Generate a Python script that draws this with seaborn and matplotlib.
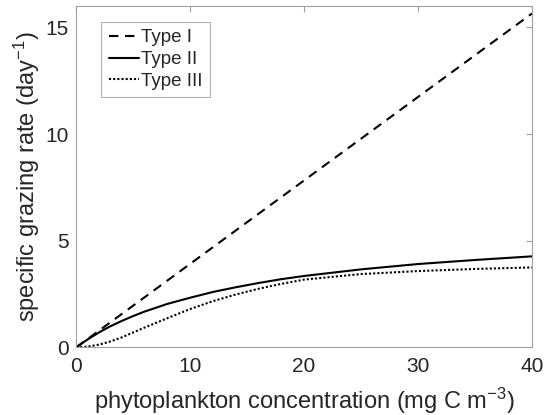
import matplotlib
matplotlib.use("Agg")
import matplotlib.pyplot as plt
import seaborn as sns
import numpy as np
import pandas as pd

# valores
conc = [0, 1, 2, 3, 4, 5, 6, 8, 10, 12, 14, 16, 18, 20, 25, 30, 35, 40]
tipo1_x = [0, 40]
tipo1_y = [0, 15.65]
tipo2 = [0, 0.37, 0.70, 0.99, 1.24, 1.47, 1.68, 2.04, 2.33, 2.60, 2.82, 3.02, 3.20, 3.35, 3.66, 3.91, 4.10, 4.27]
tipo3 = [0, 0.04, 0.13, 0.28, 0.47, 0.70, 0.93, 1.37, 1.80, 2.17, 2.48, 2.75, 2.98, 3.18, 3.44, 3.58, 3.68, 3.75]
legendas = ['Type I', 'Type II', 'Type III']

sns.set_style('white')
plt.rcParams['font.family'] = ['Liberation Sans', 'DejaVu Sans']
plt.rcParams['mathtext.default'] = 'regular'

fig = plt.figure(figsize = (5.48, 4.15), dpi = 100)
ax = fig.add_axes([0.1387, 0.1627, 0.8321, 0.8228])

cor = '#000000'
sns.lineplot(x = tipo1_x, y = tipo1_y, ax = ax, color = cor, linewidth = 1.5,
             label = legendas[0])
ax.lines[-1].set_dashes([4.5, 3.2])
sns.lineplot(x = conc, y = tipo2, ax = ax, color = cor, linewidth = 1.5,
             label = legendas[1])
sns.lineplot(x = conc, y = tipo3, ax = ax, color = cor, linewidth = 1.5,
             label = legendas[2])
ax.lines[-1].set_dashes([1.0, 1.0])

ax.set_xlim(0, 40)
ax.set_ylim(0, 16)
ax.set_xticks([0, 10, 20, 30, 40])
ax.set_yticks([0, 5, 10, 15])

for s in ax.spines.values():
    s.set_color('#a0a0a0')
    s.set_linewidth(0.8)
ax.tick_params(direction = 'in', length = 4, width = 0.8, color = '#a0a0a0',
               top = True, right = True, labelsize = 15, labelcolor = '#262626')
ax.tick_params(axis = 'x', pad = 7)
ax.tick_params(axis = 'y', pad = 5)

ax.set_xlabel('phytoplankton concentration (mg C m$^{-3}$)', fontsize = 17,
              color = '#262626', labelpad = 7)
ax.set_ylabel('specific grazing rate (day$^{-1}$)', fontsize = 17,
              color = '#262626', labelpad = 3)

leg = ax.legend(loc = 'upper left', bbox_to_anchor = (0.055, 0.954), fontsize = 13.5,
                frameon = True, fancybox = False, handlelength = 1.6,
                handletextpad = 0.15, borderpad = 0.4, labelspacing = 0.25,
                borderaxespad = 0)
leg.get_frame().set_edgecolor('#a0a0a0')
leg.get_frame().set_linewidth(0.8)

plt.savefig('out.png', dpi = 100)
